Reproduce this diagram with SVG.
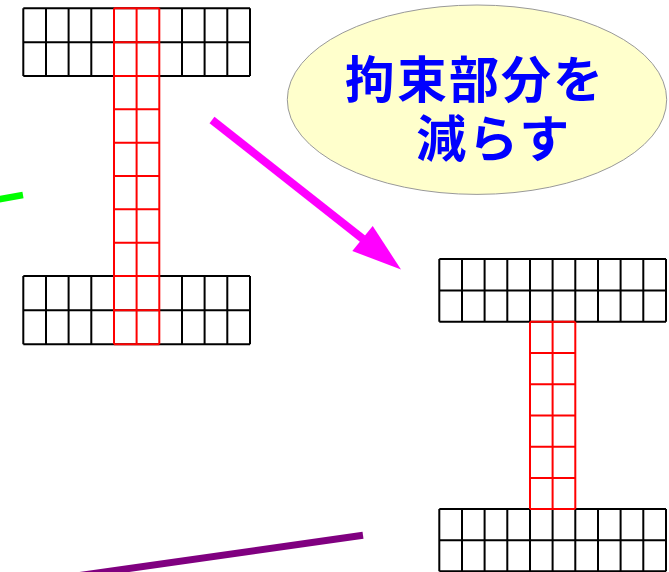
<svg xmlns="http://www.w3.org/2000/svg" width="669" height="572" viewBox="0 0 669 572">
<style>
.blk{fill:none;stroke:#000;stroke-width:2}
.red{fill:none;stroke:#ff0000;stroke-width:2}
.lbl{font-family:"Noto Sans CJK JP","Noto Sans",sans-serif;font-weight:bold;font-size:50px;fill:#0000ff;letter-spacing:2px}
</style>
<rect width="669" height="572" fill="#fff"/>
<g id="connectors">
<line x1="212" y1="120" x2="363" y2="239" stroke="#ff00ff" stroke-width="8"/>
<path d="M352.3,251 L401,269.5 L372.7,226 Z" fill="#ff00ff"/>
<line x1="-2" y1="199.5" x2="23" y2="195" stroke="#00ff00" stroke-width="6.5"/>
<line x1="363" y1="535.3" x2="50" y2="579.7" stroke="#800080" stroke-width="7"/>
</g>
<g id="beam-original">
<path class="blk" d="M23.3,8.3H250M23.3,42.3H250M23.3,76H250M23.3,276H250M23.3,310.3H250M23.3,344.3H250
M23.3,8.3V76M46,8.3V76M68.6,8.3V76M91.3,8.3V76M182,8.3V76M204.6,8.3V76M227.3,8.3V76M250,8.3V76
M23.3,276V344.3M46,276V344.3M68.6,276V344.3M91.3,276V344.3M182,276V344.3M204.6,276V344.3M227.3,276V344.3M250,276V344.3"/>
<path class="red" d="M114,8.3V344.3M136.6,8.3V344.3M159.3,8.3V344.3
M114,8.3H159.3M114,42.3H159.3M114,76H159.3M114,109.3H159.3M114,142.7H159.3M114,176H159.3M114,209.3H159.3M114,242.7H159.3M114,276H159.3M114,310.3H159.3M114,344.3H159.3"/>
</g>
<g id="callout">
<ellipse cx="477" cy="99.7" rx="189.7" ry="94.7" fill="#ffffcc" stroke="#999" stroke-width="1"/>
<text class="lbl" xml:space="preserve"><tspan x="345" y="98">拘束部分を</tspan><tspan x="403" y="157"> 減らす</tspan></text>
</g>
<g id="beam-reduced">
<path class="blk" d="M439.3,259H666M439.3,290.5H666M439.3,321.7H666M439.3,509H666M439.3,540.2H666M439.3,571.3H666
M439.3,259V321.7M462,259V321.7M484.6,259V321.7M507.3,259V321.7M530,259V321.7M552.6,259V321.7M575.3,259V321.7M598,259V321.7M620.6,259V321.7M643.3,259V321.7M666,259V321.7
M439.3,509V571.3M462,509V571.3M484.6,509V571.3M507.3,509V571.3M530,509V571.3M552.6,509V571.3M575.3,509V571.3M598,509V571.3M620.6,509V571.3M643.3,509V571.3M666,509V571.3"/>
<path class="red" d="M530,321.7V509M552.6,321.7V509M575.3,321.7V509
M530,321.7H575.3M530,353H575.3M530,384.2H575.3M530,415.5H575.3M530,446.7H575.3M530,478H575.3M530,509H575.3"/>
</g>
</svg>
